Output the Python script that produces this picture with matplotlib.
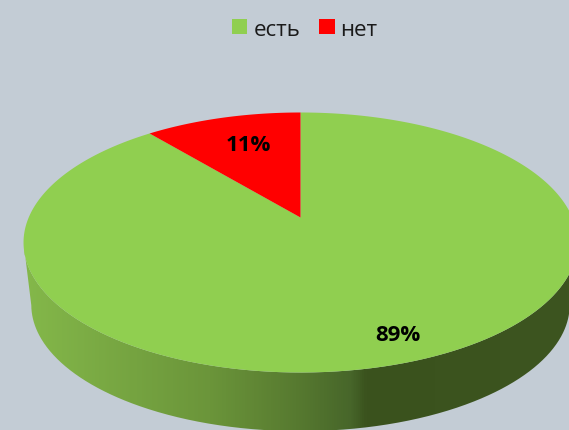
import matplotlib
matplotlib.use("Agg")
import matplotlib.pyplot as plt
from matplotlib.colors import LinearSegmentedColormap
from matplotlib.patches import Patch, PathPatch, Polygon
from matplotlib.path import Path
import numpy as np

categories = ["есть", "нет"]
values = [89, 11]
pct_labels = ["89%", "11%"]
colors = ["#90cf50", "#ff0000"]

BG = "#c3ccd5"
W, H = 569, 431

plt.rcParams["font.family"] = ["Open Sans", "DejaVu Sans"]


# circle of the pie seen in perspective, t clockwise from 12 o'clock
def project(t, scale=1.0, dy=0.0):
    k = 0.1923
    u, v = np.sin(t), np.cos(t)
    w = 1 + k * v
    return 300.5 + scale * 271.8 * u / w, 218.5 + dy - scale * 125.2 * v / w


fig = plt.figure(figsize=(W / 100, H / 100), dpi=100, facecolor=BG)
ax = fig.add_axes([0, 0, 1, 1])
ax.set_xlim(0, W)
ax.set_ylim(H, 0)
ax.axis("off")

# side wall, the gradient is clipped to the band under the front edge
t = np.linspace(0, 2 * np.pi, 1441)
xt, yt = project(t)
xb, yb = project(t, 0.972, 63)
i0, i1 = np.argmax(xt), np.argmin(xt)
j0, j1 = np.argmax(xb), np.argmin(xb)
band = np.vstack([
    np.column_stack([xt[i0:i1 + 1], yt[i0:i1 + 1]]),
    np.column_stack([xb[j0:j1 + 1], yb[j0:j1 + 1]])[::-1],
])
cmap = LinearSegmentedColormap.from_list(
    "side",
    [(0, "#84b84a"), (0.34, "#6b953a"), (0.5, "#577a30"), (0.6, "#47662a"), (0.63, "#3a521d"), (1, "#3d5520")],
)
img = ax.imshow(np.linspace(0, 1, 569)[None, :], cmap=cmap, extent=(24, 569, H, 0), aspect="auto", zorder=1)
ax.set_xlim(0, W)
ax.set_ylim(H, 0)
clip = PathPatch(Path(band), transform=ax.transData, fc="none", ec="none")
ax.add_patch(clip)
img.set_clip_path(clip)

# top face, slices run clockwise from 12 o'clock ending with the last value
start = 0.0
for val, col in zip(values, colors):
    sweep = val / sum(values) * 2 * np.pi
    ang = np.linspace(start, start + sweep, 400)
    x, y = project(ang)
    pts = np.column_stack([np.r_[300.5, x], np.r_[218.5, y]])
    ax.add_patch(Polygon(pts, closed=True, fc=col, ec="none", zorder=2))
    start += sweep

ax.text(398, 336, pct_labels[0], ha="center", va="center", fontsize=16, fontweight="bold", color="black", zorder=3)
ax.text(248, 146, pct_labels[1], ha="center", va="center", fontsize=16, fontweight="bold", color="black", zorder=3)

handles = [Patch(fc=c, ec="none") for c in colors]
ax.legend(handles, categories, loc="center", bbox_to_anchor=(305 / W, 1 - 30 / H), ncol=2, frameon=False,
          fontsize=16, handlelength=0.68, handleheight=0.68, handletextpad=0.27, columnspacing=0.86, labelcolor="#1a1a1a")

fig.savefig("out.png", dpi=100, facecolor=BG)
